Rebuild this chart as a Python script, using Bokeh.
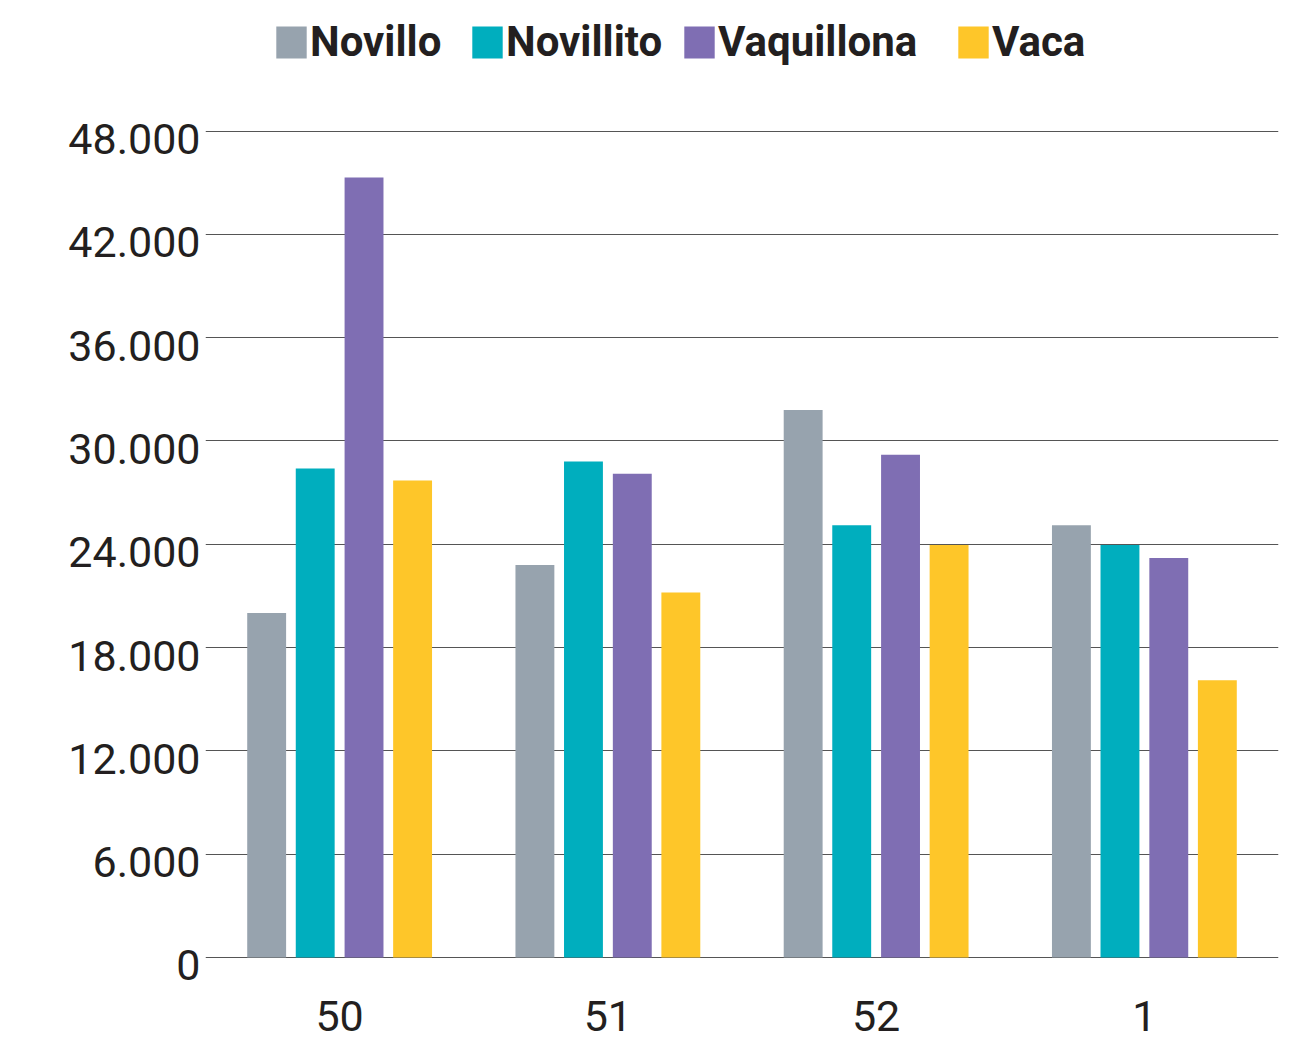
from bokeh.plotting import figure
from bokeh.models import ColumnDataSource, Range1d, FixedTicker, Legend, LegendItem
from bokeh.transform import dodge
from bokeh.embed import file_html
from bokeh.resources import INLINE

weeks = ["50", "51", "52", "1"]
novillo = [20000, 22800, 31800, 25100]
novillito = [28400, 28800, 25100, 23950]
vaquillona = [45300, 28100, 29200, 23200]
vaca = [27700, 21200, 23950, 16100]

series_names = ["Novillo", "Novillito", "Vaquillona", "Vaca"]
series_colors = ["#97a3ae", "#00aebe", "#7f6eb3", "#fec629"]
y_ticks = [0, 6000, 12000, 18000, 24000, 30000, 36000, 42000, 48000]

source = ColumnDataSource(dict(week=weeks, Novillo=novillo, Novillito=novillito,
                               Vaquillona=vaquillona, Vaca=vaca))

# frame extends above the top tick so the legend (drawn in the frame) fits
p = figure(width=1290, height=1048, x_range=weeks, y_range=Range1d(-60, 55000),
           output_backend="svg", toolbar_location=None,
           min_border_left=205, min_border_right=12, min_border_top=10, min_border_bottom=90)
p.x_range.range_padding = 0
p.outline_line_color = None
p.background_fill_color = "white"
p.border_fill_color = "white"

offsets = [-0.272, -0.091, 0.091, 0.272]
renderers = []
for name, color, off in zip(series_names, series_colors, offsets):
    r = p.vbar(x=dodge("week", off, range=p.x_range), top=name, width=0.145,
               source=source, fill_color=color, line_color=None)
    renderers.append(r)

# grid
p.xgrid.grid_line_color = None
p.ygrid.ticker = FixedTicker(ticks=y_ticks)
p.ygrid.grid_line_color = "#555555"
p.ygrid.grid_line_width = 1

# y axis (labels sit slightly below their grid lines, as in the original)
p.yaxis.ticker = FixedTicker(ticks=y_ticks)
p.yaxis.major_label_overrides = {t: "\n" + f"{t:,}".replace(",", ".") for t in y_ticks}
p.yaxis.major_label_text_line_height = 0.32
p.yaxis.axis_line_color = None
p.yaxis.major_tick_line_color = None
p.yaxis.minor_tick_line_color = None
p.yaxis.major_tick_out = 0
p.yaxis.major_tick_in = 0
p.yaxis.minor_tick_out = 0
p.yaxis.major_label_standoff = 5
p.yaxis.major_label_text_font = "Roboto"
p.yaxis.major_label_text_font_size = "43px"
p.yaxis.major_label_text_color = "#231f20"

# x axis
p.xaxis.axis_line_color = None
p.xaxis.major_tick_line_color = None
p.xaxis.minor_tick_line_color = None
p.xaxis.major_tick_out = 0
p.xaxis.major_tick_in = 0
p.xaxis.major_label_standoff = 42
p.xaxis.major_label_text_font = "Roboto"
p.xaxis.major_label_text_font_size = "43px"
p.xaxis.major_label_text_color = "#231f20"

# one legend per item, placed at the top of the frame
legend_x = [67, 263, 475, 749]
for name, r, lx in zip(series_names, renderers, legend_x):
    lg = Legend(items=[LegendItem(label=name, renderers=[r])], location=(lx, 892),
                orientation="horizontal", padding=0, margin=0, spacing=0,
                glyph_width=38, glyph_height=40, label_height=40, label_standoff=0,
                label_text_font="Roboto", label_text_font_style="bold",
                label_text_font_size="42px", label_text_color="#231f20",
                border_line_color=None, background_fill_alpha=0)
    p.add_layout(lg, "center")

open("out.html", "w").write(file_html(p, INLINE))
